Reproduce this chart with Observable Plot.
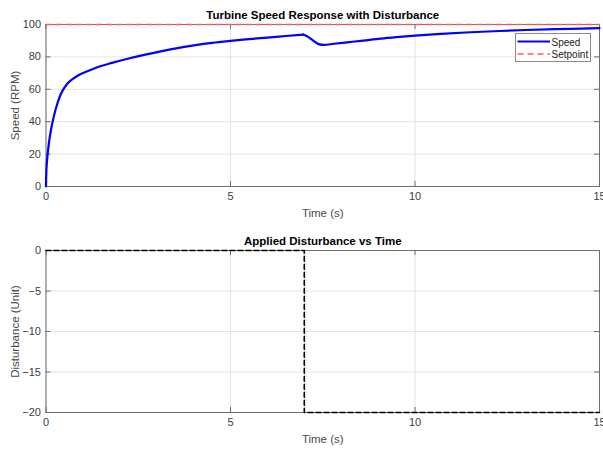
<!DOCTYPE html>
<html>
<head>
<meta charset="utf-8">
<script src="https://cdn.jsdelivr.net/npm/d3@7"></script>
<script src="https://cdn.jsdelivr.net/npm/@observablehq/plot@0.6"></script>
<style>
  body { margin: 0; background: #fff; }
  #wrap { position: relative; width: 603px; height: 449px; overflow: hidden; background: #fff; font-family: "Liberation Sans", Arial, sans-serif; }
  #wrap svg { display: block; }
  #legend { position: absolute; left: 515px; top: 33px; width: 76px; height: 29px; box-sizing: border-box; border: 1px solid #8a8a8a; background: #fff; }
</style>
</head>
<body>
<div id="wrap"></div>
<script>
// ---- data ----
const topTitle = "Turbine Speed Response with Disturbance";
const bottomTitle = "Applied Disturbance vs Time";
const xLabel = "Time (s)";
const speedLabel = "Speed (RPM)";
const distLabel = "Disturbance (Unit)";
const legendNames = ["Speed", "Setpoint"];

const xTicks = [0, 5, 10, 15];
const speedTicks = [0, 20, 40, 60, 80, 100];
const distTicks = [-20, -15, -10, -5, 0];

const speedTime  = [0, 0.005, 0.01, 0.02, 0.04, 0.08, 0.12, 0.18, 0.26, 0.39, 0.57, 0.75, 0.89, 1.1, 1.34, 1.79, 2.24, 2.69, 3.14, 3.6, 4.05, 4.5, 5.0, 5.5, 6.0, 6.5, 6.97, 7.05, 7.17, 7.28, 7.39, 7.53, 7.8, 8.16, 8.6, 9.07, 9.5, 10.0, 10.7, 11.5, 12.3, 13.0, 13.8, 14.5, 15];
const speedValue = [0, 6, 9.5, 13.5, 19, 27, 33, 40, 47.5, 56.5, 63.3, 66.8, 68.8, 71, 73.2, 76.3, 79.0, 81.4, 83.6, 85.6, 87.3, 88.7, 89.9, 90.95, 91.95, 92.9, 93.8, 93.0, 91.3, 89.4, 87.9, 87.4, 88.1, 89.0, 90.1, 91.3, 92.2, 93.1, 94.2, 95.2, 96.0, 96.6, 97.15, 97.5, 97.8];
const peakTime = 6.97;

const setpointTime  = [0, 15];
const setpointValue = [100, 100];

const distTime  = [0, 7, 7, 15];
const distValue = [0, 0, -20, -20];

// ---- build tables ----
const speedRows = [];
speedTime.forEach((t, i) => {
  if (t <= peakTime) speedRows.push({t, v: speedValue[i], seg: "a"});
  if (t >= peakTime) speedRows.push({t, v: speedValue[i], seg: "b"});
});
const setpointRows = setpointTime.map((t, i) => ({t, v: setpointValue[i]}));
const distRows = distTime.map((t, i) => ({t, v: distValue[i]}));

const W = 603, ML = 45.5, MR = 4;
const PW = W - ML - MR;
const PH = 162;
const frameColor = "#6e6e6e";
const gridColor = "#e3e3e3";
const font = "'Liberation Sans', Arial, sans-serif";

function panel({height, marginTop, marginBottom, yDomain, yTicks, title, yLabel, lines}) {
  return Plot.plot({
    width: W, height, marginLeft: ML, marginRight: MR, marginTop, marginBottom,
    style: {fontFamily: font, fontSize: "11px", color: "#404040", background: "#fff", overflow: "visible"},
    x: {domain: [0, 15], label: null},
    y: {domain: yDomain, label: null},
    marks: [
      Plot.gridX(xTicks, {stroke: gridColor, strokeOpacity: 1}),
      Plot.gridY(yTicks, {stroke: gridColor, strokeOpacity: 1}),
      Plot.frame({stroke: frameColor, strokeWidth: 1}),
      Plot.tickX(xTicks, {insetTop: PH - 5, stroke: frameColor}),
      Plot.tickX(xTicks, {insetBottom: PH - 5, stroke: frameColor}),
      Plot.tickY(yTicks, {insetRight: PW - 5, stroke: frameColor}),
      Plot.tickY(yTicks, {insetLeft: PW - 5, stroke: frameColor}),
      Plot.axisX(xTicks, {tickSize: 0, tickPadding: 6, label: null, fontSize: 11}),
      Plot.axisY(yTicks, {tickSize: 0, tickPadding: 5, label: null, fontSize: 11}),
      ...lines,
      Plot.text([title], {frameAnchor: "top", dy: -9, lineAnchor: "middle", textAnchor: "middle", fontWeight: "bold", fontSize: 11.5, fill: "#000"}),
      Plot.text([xLabel], {frameAnchor: "bottom", dy: 27, lineAnchor: "middle", textAnchor: "middle", fontSize: 11.5, fill: "#4a4a4a"}),
      Plot.text([yLabel], {frameAnchor: "left", dx: -31, rotate: -90, lineAnchor: "middle", textAnchor: "middle", fontSize: 11.5, fill: "#4a4a4a"})
    ]
  });
}

const topPanel = panel({
  height: 224, marginTop: 24, marginBottom: 38,
  yDomain: [0, 100], yTicks: speedTicks, title: topTitle, yLabel: speedLabel,
  lines: [
    Plot.line(speedRows, {x: "t", y: "v", z: "seg", curve: "monotone-x", stroke: "#0000ff", strokeWidth: 2.2}),
    Plot.line(setpointRows, {x: "t", y: "v", stroke: "#ff5a5a", strokeWidth: 1.6, strokeDasharray: "6,4"})
  ]
});

const bottomPanel = panel({
  height: 225, marginTop: 26, marginBottom: 37,
  yDomain: [-20, 0], yTicks: distTicks, title: bottomTitle, yLabel: distLabel,
  lines: [
    Plot.line(distRows, {x: "t", y: "v", stroke: "#000", strokeWidth: 1.6, strokeDasharray: "5,3"})
  ]
});

const wrap = document.getElementById("wrap");
wrap.appendChild(topPanel);
wrap.appendChild(bottomPanel);

// legend
const legend = document.createElement("div");
legend.id = "legend";
legend.innerHTML = `
<svg width="74" height="27" style="position:absolute;left:0;top:0">
  <line x1="1.5" x2="34" y1="7.5" y2="7.5" stroke="#0000ff" stroke-width="2.2"/>
  <line x1="1.5" x2="34" y1="20" y2="20" stroke="#ff5a5a" stroke-width="1.6" stroke-dasharray="6,4"/>
  <text x="35.5" y="11.5" font-size="10" fill="#222" font-family="${font}">${legendNames[0]}</text>
  <text x="35.5" y="24" font-size="10" fill="#222" font-family="${font}">${legendNames[1]}</text>
</svg>`;
wrap.appendChild(legend);
</script>
</body>
</html>
